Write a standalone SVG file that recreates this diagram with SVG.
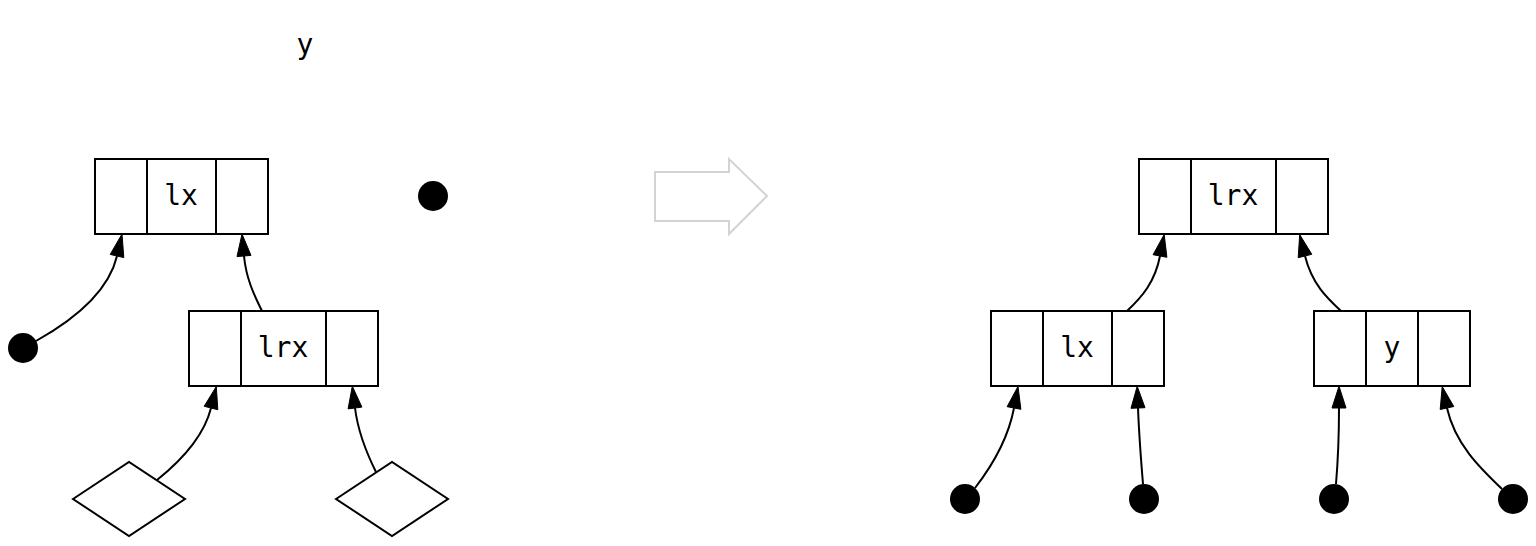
<svg xmlns="http://www.w3.org/2000/svg" width="1536" height="546" viewBox="0 0 1536 546">
<style>
.box{fill:#fff;stroke:#000;stroke-width:2}
.div{stroke:#000;stroke-width:2}
.lbl{font-family:"DejaVu Sans Mono",monospace;font-size:28px;fill:#000;text-anchor:middle}
.dot{fill:#000}
.edge{fill:none;stroke:#000;stroke-width:2}
.ah{fill:#000;stroke:#000;stroke-width:1;stroke-linejoin:miter}
.dia{fill:#fff;stroke:#000;stroke-width:2}
</style>
<rect width="1536" height="546" fill="#fff"/>
<text class="lbl" x="305" y="54">y</text>
<g id="L_lx">
<rect class="box" x="95" y="159" width="173" height="75"/>
<line class="div" x1="147" y1="159" x2="147" y2="234"/>
<line class="div" x1="216" y1="159" x2="216" y2="234"/>
<text class="lbl" x="181" y="205">lx</text>
</g>
<g id="L_lrx">
<rect class="box" x="189" y="311" width="189" height="75"/>
<line class="div" x1="241" y1="311" x2="241" y2="386"/>
<line class="div" x1="326" y1="311" x2="326" y2="386"/>
<text class="lbl" x="283" y="357">lrx</text>
</g>
<g id="L_dot_y"><circle class="dot" cx="433" cy="196" r="15"/></g>
<g id="L_dot_a"><circle class="dot" cx="23" cy="348" r="15"/></g>
<g id="L_dia1"><polygon class="dia" points="73,499 129,462 185,499 129,536"/></g>
<g id="L_dia2"><polygon class="dia" points="336,499 392,462 448,499 392,536"/></g>
<g id="bigarrow"><polygon points="655,172 729,172 729,159 767,196 729,234 729,221 655,221" fill="none" stroke="#d3d3d3" stroke-width="2"/></g>
<g id="R_lrx">
<rect class="box" x="1139" y="159" width="189" height="75"/>
<line class="div" x1="1191" y1="159" x2="1191" y2="234"/>
<line class="div" x1="1276" y1="159" x2="1276" y2="234"/>
<text class="lbl" x="1233" y="205">lrx</text>
</g>
<g id="R_lx">
<rect class="box" x="991" y="311" width="173" height="75"/>
<line class="div" x1="1043" y1="311" x2="1043" y2="386"/>
<line class="div" x1="1112" y1="311" x2="1112" y2="386"/>
<text class="lbl" x="1077" y="357">lx</text>
</g>
<g id="R_y">
<rect class="box" x="1314" y="311" width="156" height="75"/>
<line class="div" x1="1366" y1="311" x2="1366" y2="386"/>
<line class="div" x1="1418" y1="311" x2="1418" y2="386"/>
<text class="lbl" x="1392" y="357">y</text>
</g>
<g id="R_d1"><circle class="dot" cx="965" cy="499" r="15"/></g>
<g id="R_d2"><circle class="dot" cx="1144" cy="499" r="15"/></g>
<g id="R_d3"><circle class="dot" cx="1334" cy="499" r="15"/></g>
<g id="R_d4"><circle class="dot" cx="1513" cy="499" r="15"/></g>
<g id="edges">
<path class="edge" d="M36,341 C70,322 108,294 117,256"/>
<polygon class="ah" points="123.8,257.6 122,234 110.2,254.4"/>
<path class="edge" d="M262,311 C254,295 246,278 244,256"/>
<polygon class="ah" points="251,255.4 242,234 237,256.6"/>
<path class="edge" d="M157,480 C182,460 204,436 211,408"/>
<polygon class="ah" points="217.8,409.7 216.3,386.5 204.2,406.3"/>
<path class="edge" d="M376,472 C366,452 358,432 355,408"/>
<polygon class="ah" points="361.9,407.1 352.3,386.2 348.1,408.9"/>
<path class="edge" d="M1127,311 C1142,297 1155,282 1160,256"/>
<polygon class="ah" points="1166.9,257.3 1164.2,234.4 1153.1,254.7"/>
<path class="edge" d="M1341,311 C1327,298 1312,284 1305,256"/>
<polygon class="ah" points="1311.8,254.3 1299.7,234.6 1298.2,257.7"/>
<path class="edge" d="M975,488 C992,466 1008,440 1014,408"/>
<polygon class="ah" points="1020.9,409.3 1018,386.4 1007.1,406.7"/>
<path class="edge" d="M1143,484 C1141,460 1139,434 1138,408"/>
<polygon class="ah" points="1145,407.7 1137.2,386.2 1131,408.3"/>
<path class="edge" d="M1336,484 C1338,460 1339,434 1339,408"/>
<polygon class="ah" points="1346,408 1339,386.2 1332,408"/>
<path class="edge" d="M1502,489 C1480,468 1455,444 1447,408"/>
<polygon class="ah" points="1453.8,406.5 1442.2,386.5 1440.2,409.5"/>
</g>
</svg>
